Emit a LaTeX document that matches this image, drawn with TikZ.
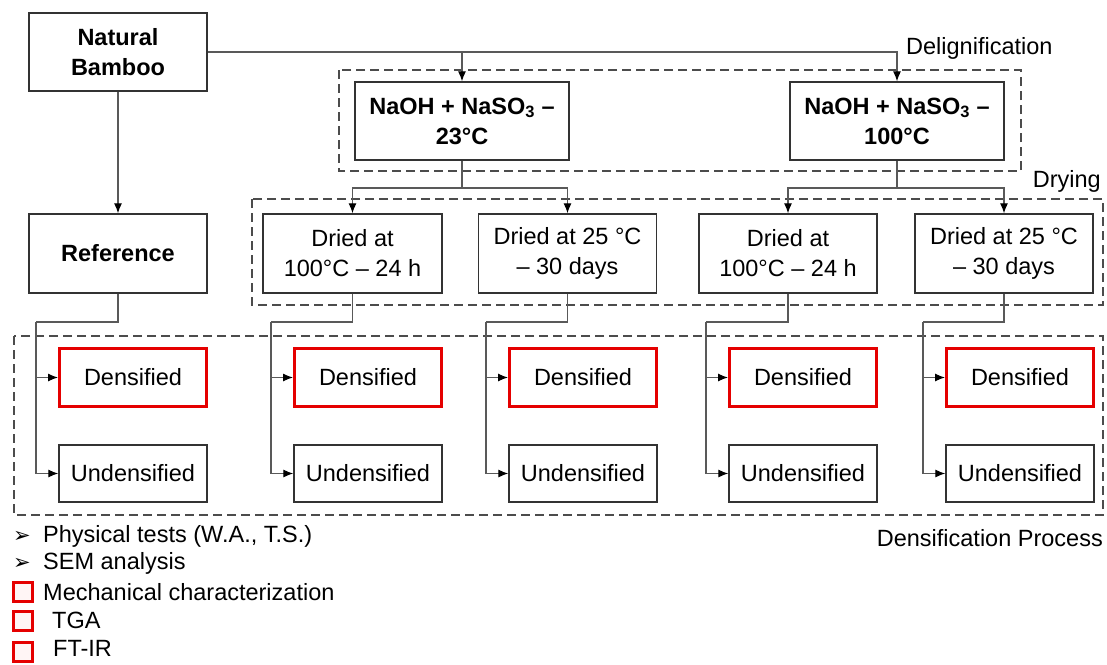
\documentclass[tikz,border=0pt]{standalone}
\usepackage{fontspec}
\setmainfont{Liberation Sans}
\newfontfamily\symfont{DejaVu Sans}
\usetikzlibrary{arrows.meta}
\newcommand\myfs{\fontsize{23.5}{30}\selectfont}
\begin{document}
\begin{tikzpicture}[x=1pt,y=-1pt,
  box/.style={draw=black!80,line width=1.4pt,fill=white,align=center,inner sep=0pt,font=\myfs},
  bbox/.style={box,font=\myfs\bfseries},
  redbox/.style={box,draw=red!90!black,line width=3pt},
  group/.style={draw=black!70,line width=1.4pt,dash pattern=on 9pt off 5pt},
  conn/.style={draw=black!65,line width=1.1pt},
  arr/.style={conn,-{Latex[length=10pt,width=8pt,color=black]}},
  lbl/.style={font=\myfs,inner sep=0pt},
  legsq/.style={draw=red!90!black,line width=2.2pt,fill=red!4,minimum size=19pt,inner sep=0pt},
  bul/.style={font=\symfont\fontsize{21}{21}\selectfont,inner sep=0pt}]
\useasboundingbox (0,0) rectangle (1107,664);

% dashed group frames
\draw[group] (339,70) rectangle (1021,171);
\draw[group] (252,199) rectangle (1103,305);
\draw[group] (14,336) rectangle (1103,515);
\node[lbl,anchor=west] (lDel) at (906,48) {Delignification};
\node[lbl,anchor=east] (lDry) at (1101,181) {Drying};
\node[lbl,anchor=east] (lDen) at (1103,538) {Densification Process};

% top nodes
\node[bbox,minimum width=178pt,minimum height=78pt] (nb) at (118,52) {Natural\\Bamboo};
\node[bbox,minimum width=214pt,minimum height=78pt] (n1) at (462,121) {NaOH + NaSO\textsubscript{3} –\\23°C};
\node[bbox,minimum width=214pt,minimum height=78pt] (n2) at (897,121) {NaOH + NaSO\textsubscript{3} –\\100°C};

% second row
\node[bbox,minimum width=178pt,minimum height=79pt] (ref) at (118,253.5) {Reference};
\node[box,minimum width=179pt,minimum height=79pt] (d1) at (352.5,253.5) {Dried at\\100°C – 24 h};
\node[box,minimum width=178pt,minimum height=79pt] (d2) at (567.5,253.5) {Dried at 25 °C\\– 30 days};
\node[box,minimum width=178pt,minimum height=79pt] (d3) at (788,253.5) {Dried at\\100°C – 24 h};
\node[box,minimum width=178pt,minimum height=79pt] (d4) at (1004,253.5) {Dried at 25 °C\\– 30 days};

% densified / undensified
\foreach \i/\cx in {0/133,1/368,2/583,3/803,4/1020}{
  \node[redbox,minimum width=147pt,minimum height=58pt] (den\i) at (\cx,377.5) {Densified};
  \node[box,minimum width=148pt,minimum height=57pt] (und\i) at (\cx,473.5) {Undensified};
}

% connectors from Natural Bamboo
\draw[arr] (nb.east) -| (n2.north);
\coordinate (jt) at (n1.north |- nb.east);
\draw[arr] (jt) -- (n1.north);
\draw[arr] (nb.south) -- (ref.north);

% delignification to drying
\coordinate (j1) at (462,188);
\coordinate (j2) at (897,188);
\draw[conn] (n1.south) -- (j1);
\draw[arr] (j1) -| (d1.north);
\draw[arr] (j1) -| (d2.north);
\draw[conn] (n2.south) -- (j2);
\draw[arr] (j2) -| (d3.north);
\draw[arr] (j2) -| (d4.north);

% drying to densification
\foreach \src/\i/\bx in {ref/0/36,d1/1/271,d2/2/486,d3/3/706,d4/4/923}{
  \coordinate (b\i) at (\bx,322);
  \draw[conn] (\src.south) |- (b\i);
  \draw[arr] (b\i) |- (den\i.west);
  \draw[arr] (b\i) |- (und\i.west);
}

% legend
\node[bul,anchor=west] (u1) at (13,537) {➢};
\node[lbl,anchor=west] (t1) at (43,536) {Physical tests (W.A., T.S.)};
\node[bul,anchor=west] (u2) at (13,564) {➢};
\node[lbl,anchor=west] (t2) at (43,563) {SEM analysis};
\node[legsq] (s1) at (23,592) {};
\node[lbl,anchor=west] (t3) at (43,592) {Mechanical characterization};
\node[legsq] (s2) at (23,621) {};
\node[lbl,anchor=west] (t4) at (52,620) {TGA};
\node[legsq] (s3) at (23,652) {};
\node[lbl,anchor=west] (t5) at (53,648) {FT-IR};
\end{tikzpicture}
\end{document}
